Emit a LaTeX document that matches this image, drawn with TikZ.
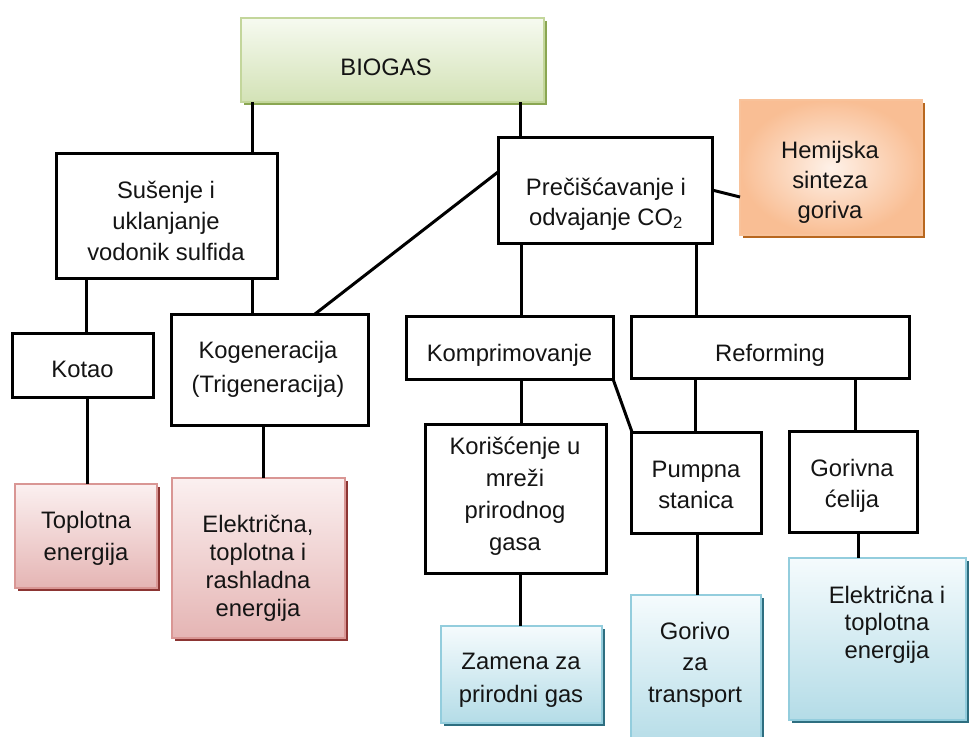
\documentclass[tikz,border=0pt]{standalone}
\usepackage{fontspec}
\setmainfont{Liberation Sans}
\usetikzlibrary{shadows}
\definecolor{grnT}{HTML}{F6FAF0}
\definecolor{grnB}{HTML}{D3E2B6}
\definecolor{grnL}{HTML}{C3D69B}
\definecolor{grnS}{HTML}{8AA652}
\definecolor{orgI}{HTML}{FEF1E8}
\definecolor{orgO}{HTML}{F9BE94}
\definecolor{orgL}{HTML}{F8C29A}
\definecolor{orgS}{HTML}{B8671F}
\definecolor{pnkT}{HTML}{FBF0F0}
\definecolor{pnkB}{HTML}{E5B5B4}
\definecolor{pnkL}{HTML}{D99694}
\definecolor{pnkS}{HTML}{8C3533}
\definecolor{bluT}{HTML}{F5FBFD}
\definecolor{bluB}{HTML}{B4DCE7}
\definecolor{bluL}{HTML}{93CDDD}
\definecolor{bluS}{HTML}{2E6E80}
\newcommand{\mlines}[2]{{\fontsize{23.8pt}{#1pt}\selectfont\begin{tabular}[t]{@{}c@{}}#2\end{tabular}}}
\begin{document}
\begin{tikzpicture}[x=1pt,y=-1pt,
  box/.style={rectangle, draw=black, line width=3pt, fill=white, inner sep=0pt, outer sep=0pt},
  cbox/.style={rectangle, inner sep=0pt, outer sep=0pt, line width=1.3pt},
  greenbox/.style={cbox, draw=grnL, top color=grnT, bottom color=grnB,
    drop shadow={shadow xshift=3pt, shadow yshift=-3pt, fill=grnS, opacity=1}},
  orangebox/.style={cbox, draw=orgL, shading=radial, inner color=orgI, outer color=orgO,
    drop shadow={shadow xshift=3pt, shadow yshift=-3pt, fill=orgS, opacity=1}},
  pinkbox/.style={cbox, draw=pnkL, top color=pnkT, bottom color=pnkB,
    drop shadow={shadow xshift=3pt, shadow yshift=-3pt, fill=pnkS, opacity=1}},
  bluebox/.style={cbox, draw=bluL, top color=bluT, bottom color=bluB,
    drop shadow={shadow xshift=3pt, shadow yshift=-3pt, fill=bluS, opacity=1}},
  txt/.style={inner sep=0pt, outer sep=0pt, anchor=base, text=black!92},
  conn/.style={draw=black, line width=3pt}]
\useasboundingbox (0,0) rectangle (971,736);
\fill[white] (0,0) rectangle (971,736);

% boxes
\node[greenbox, minimum width=303pt, minimum height=84pt] (biogas) at (392.5,60) {};
\node[box, minimum width=221pt, minimum height=125pt] (susenje) at (166.5,215.5) {};
\node[box, minimum width=214pt, minimum height=106pt] (precisc) at (605,190) {};
\node[orangebox, minimum width=182pt, minimum height=135pt] (hemijska) at (831,167.5) {};
\node[box, minimum width=141pt, minimum height=64pt] (kotao) at (82.5,365) {};
\node[box, minimum width=197pt, minimum height=111pt] (kogen) at (269.5,369.5) {};
\node[box, minimum width=207pt, minimum height=63pt] (kompr) at (509.5,347.5) {};
\node[box, minimum width=278pt, minimum height=62pt] (reform) at (770,347) {};
\node[box, minimum width=181pt, minimum height=149pt] (korisc) at (515.5,498.5) {};
\node[box, minimum width=130pt, minimum height=101pt] (pumpna) at (696,482.5) {};
\node[box, minimum width=128pt, minimum height=101pt] (gorivna) at (853,481.5) {};
\node[pinkbox, minimum width=142pt, minimum height=104pt] (toplotna) at (86,536) {};
\node[pinkbox, minimum width=173pt, minimum height=160pt] (elektr3) at (258.5,558) {};
\node[bluebox, minimum width=161pt, minimum height=97pt] (zamena) at (521.5,674.5) {};
\node[bluebox, minimum width=130pt, minimum height=153pt] (gorivo) at (696,671.5) {};
\node[bluebox, minimum width=177pt, minimum height=162pt] (elektr2) at (877.5,639) {};

% texts
\node[txt] (biogas-t) at (386,75) {\mlines{30}{BIOGAS}};
\node[txt] (susenje-t) at (166,198) {\mlines{31.3}{Sušenje i\\uklanjanje\\vodonik sulfida}};
\node[txt] (precisc-t) at (606,195) {\mlines{30}{Prečišćavanje i\\odvajanje CO\textsubscript{2}}};
\node[txt] (hemijska-t) at (830,158) {\mlines{30}{Hemijska\\sinteza\\goriva}};
\node[txt] (kotao-t) at (82.5,377) {\mlines{30}{Kotao}};
\node[txt] (kogen-t) at (268,358) {\mlines{34}{Kogeneracija\\(Trigeneracija)}};
\node[txt] (kompr-t) at (509.5,361) {\mlines{30}{Komprimovanje}};
\node[txt] (reform-t) at (770,361) {\mlines{30}{Reforming}};
\node[txt] (korisc-t) at (515,454) {\mlines{32}{Korišćenje u\\mreži\\prirodnog\\gasa}};
\node[txt] (pumpna-t) at (696,477) {\mlines{31}{Pumpna\\stanica}};
\node[txt] (gorivna-t) at (852,476) {\mlines{31}{Gorivna\\ćelija}};
\node[txt] (toplotna-t) at (86,528) {\mlines{32}{Toplotna\\energija}};
\node[txt] (elektr3-t) at (258,532) {\mlines{28.3}{Električna,\\toplotna i\\rashladna\\energija}};
\node[txt] (zamena-t) at (521,669) {\mlines{33}{Zamena za\\prirodni gas}};
\node[txt] (gorivo-t) at (695,639) {\mlines{31.5}{Gorivo\\za\\transport}};
\node[txt] (elektr2-t) at (887,603) {\mlines{27.5}{Električna i\\toplotna\\energija}};

% connectors
\draw[conn] ([xshift=11pt]biogas.south west) -- ([xshift=-25pt]susenje.north east);
\draw[conn] ([xshift=-24pt]biogas.south east) -- ([xshift=22pt]precisc.north west);
\draw[conn] (precisc.east) -- ([yshift=-29.5pt]hemijska.west);
\draw[conn] ([yshift=18pt]precisc.west) -- ([xshift=144pt]kogen.north west);
\draw[conn] ([xshift=30pt]susenje.south west) -- ([xshift=3.5pt]kotao.north);
\draw[conn] ([xshift=-25pt]susenje.south east) -- ([xshift=81pt]kogen.north west);
\draw[conn] ([xshift=4.5pt]kotao.south) -- ([xshift=1pt]toplotna.north);
\draw[conn] ([xshift=-6.5pt]kogen.south) -- ([xshift=4.5pt]elektr3.north);
\draw[conn] ([xshift=23pt]precisc.south west) -- ([xshift=11.5pt]kompr.north);
\draw[conn] ([xshift=-16pt]precisc.south east) -- ([xshift=65pt]reform.north west);
\draw[conn] ([xshift=11.5pt]kompr.south) -- ([xshift=5.5pt]korisc.north);
\draw[conn] (kompr.south east) -- ([xshift=1pt]pumpna.north west);
\draw[conn] ([xshift=64pt]reform.south west) -- ([xshift=-1pt]pumpna.north);
\draw[conn] ([xshift=-54pt]reform.south east) -- ([xshift=2pt]gorivna.north);
\draw[conn] ([xshift=4.5pt]korisc.south) -- ([xshift=-1.5pt]zamena.north);
\draw[conn] ([xshift=1pt]pumpna.south) -- ([xshift=1pt]gorivo.north);
\draw[conn] ([xshift=5pt]gorivna.south) -- ([xshift=-19.5pt]elektr2.north);
\end{tikzpicture}
\end{document}
